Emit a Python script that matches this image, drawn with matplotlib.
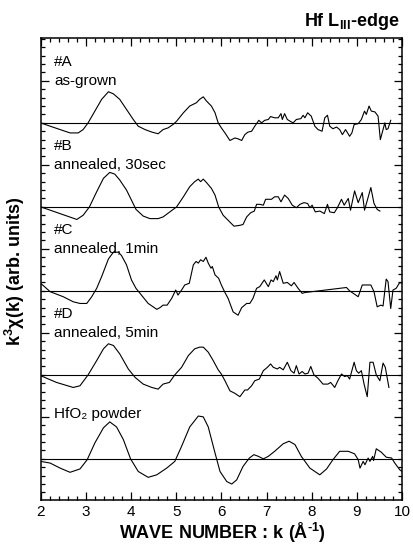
import numpy as np
import matplotlib
matplotlib.use('Agg')
import matplotlib.pyplot as plt
from matplotlib.ticker import FixedLocator, MultipleLocator

plt.rcParams['font.family'] = ['Liberation Sans', 'DejaVu Sans']
plt.rcParams['mathtext.fontset'] = 'custom'
plt.rcParams['mathtext.rm'] = 'Liberation Sans:bold'
plt.rcParams['mathtext.bf'] = 'Liberation Sans:bold'

# k3*chi(k) traces (arb. units, each offset by 1)
k_a = [2.0, 2.21, 2.43, 2.65, 2.83, 2.94, 3.05, 3.20, 3.35, 3.50, 3.61, 3.75, 3.90, 4.05, 4.16,
       4.31, 4.46, 4.60, 4.71, 4.82, 4.93, 5.01, 5.16, 5.30, 5.45, 5.52, 5.60, 5.67, 5.78, 5.86,
       5.93, 6.00, 6.08, 6.19, 6.30, 6.37, 6.45, 6.52, 6.59, 6.67, 6.74, 6.83, 6.89, 6.96, 7.04,
       7.09, 7.18, 7.26, 7.32, 7.35, 7.40, 7.46, 7.52, 7.59, 7.66, 7.76, 7.81, 7.85, 7.91, 7.99,
       8.07, 8.14, 8.23, 8.29, 8.35, 8.40, 8.47, 8.55, 8.62, 8.68, 8.75, 8.84, 8.89, 8.94, 9.03,
       9.10, 9.17, 9.21, 9.27, 9.32, 9.40, 9.47, 9.52, 9.58, 9.62, 9.65, 9.69, 9.75]
chi_a = [0, -0.04, -0.08, -0.12, -0.12, -0.08, 0, 0.14, 0.28, 0.37, 0.345, 0.28, 0.16, 0.04, -0.04,
         -0.08, -0.11, -0.13, -0.08, -0.06, -0.02, 0.02, 0.12, 0.20, 0.24, 0.28, 0.31, 0.26, 0.20, 0.12,
         0, -0.06, -0.12, -0.21, -0.18, -0.19, -0.21, -0.14, -0.11, -0.10, -0.04, 0.03, 0, 0.03, 0.04,
         0.075, 0.06, 0.06, 0.11, 0.04, 0.11, 0.04, 0.02, 0, 0.04, 0.05, 0.09, 0.06, 0.12, 0.08,
         -0.04, -0.08, -0.10, 0.06, 0.09, -0.04, -0.07, -0.05, -0.08, -0.14, -0.08, -0.16, -0.12, -0.02, -0.01,
         0.04, 0.14, 0.10, 0.20, 0.14, 0.13, 0.08, -0.20, -0.08, 0, -0.08, -0.07, 0.03]

k_b = [2.0, 2.80, 2.94, 3.08, 3.24, 3.39, 3.53, 3.64, 3.75, 3.90, 4.01, 4.11, 4.27, 4.42, 4.60,
       4.71, 4.86, 5.01, 5.16, 5.30, 5.41, 5.49, 5.54, 5.60, 5.67, 5.78, 5.86, 5.94, 6.04, 6.15,
       6.28, 6.41, 6.48, 6.56, 6.65, 6.73, 6.78, 6.85, 6.93, 6.98, 7.11, 7.18, 7.26, 7.32, 7.40,
       7.48, 7.57, 7.66, 7.74, 7.83, 7.91, 7.96, 8.01, 8.08, 8.18, 8.28, 8.35, 8.40, 8.50, 8.57,
       8.66, 8.72, 8.81, 8.86, 8.95, 9.03, 9.12, 9.17, 9.31, 9.38, 9.45, 9.51]
chi_b = [0, -0.15, -0.10, 0, 0.18, 0.34, 0.41, 0.39, 0.32, 0.20, 0.08, -0.03, -0.11, -0.14, -0.14,
         -0.12, -0.06, 0, 0.12, 0.24, 0.30, 0.33, 0.30, 0.33, 0.29, 0.22, 0.14, 0, -0.10, -0.16,
         -0.23, -0.22, -0.21, -0.12, -0.07, -0.05, 0.03, 0.03, 0.02, 0.09, 0.09, 0.12, 0.12, 0.06, 0.14,
         0.10, 0.02, -0.01, 0.03, 0.05, 0.04, -0.01, 0.02, -0.06, -0.05, -0.08, 0.03, -0.06, -0.07, -0.01,
         0.09, 0.02, 0.10, -0.04, 0.19, 0.05, 0.17, -0.04, 0.23, 0.04, -0.03, -0.05]

k_c = [2.0, 2.21, 2.50, 2.72, 2.87, 3.02, 3.13, 3.24, 3.35, 3.50, 3.61, 3.72, 3.79, 3.90, 4.01,
       4.11, 4.23, 4.38, 4.49, 4.57, 4.64, 4.71, 4.80, 4.90, 4.99, 5.04, 5.12, 5.19, 5.29, 5.38,
       5.44, 5.49, 5.54, 5.60, 5.66, 5.71, 5.77, 5.80, 5.86, 5.94, 6.00, 6.08, 6.15, 6.26, 6.37,
       6.45, 6.56, 6.63, 6.70, 6.78, 6.85, 6.95, 7.04, 7.10, 7.15, 7.21, 7.24, 7.29, 7.37, 7.46,
       7.55, 7.61, 7.70, 7.79, 7.85, 8.77, 8.84, 8.95, 9.03, 9.12, 9.31, 9.38, 9.45, 9.53, 9.58,
       9.65, 9.69, 9.75, 9.80, 9.87, 9.95, 10.0]
chi_c = [0.09, -0.01, -0.07, -0.13, -0.15, -0.15, -0.07, 0.03, 0.17, 0.38, 0.46, 0.46, 0.42, 0.31, 0.13,
         0.03, -0.05, -0.15, -0.19, -0.22, -0.20, -0.17, -0.17, -0.09, 0.01, -0.05, 0.01, 0.07, 0.09, 0.31,
         0.35, 0.33, 0.37, 0.35, 0.40, 0.33, 0.27, 0.29, 0.19, 0.15, 0.07, -0.02, -0.09, -0.25, -0.29,
         -0.20, -0.15, -0.15, -0.09, 0.03, 0.05, 0.13, 0.05, 0.13, 0.11, 0.18, 0.13, 0.23, 0.09, 0.10,
         0.06, 0.10, 0.03, -0.03, -0.02, 0.04, 0, -0.04, -0.07, 0.07, 0.07, -0.01, -0.19, -0.17, -0.18,
         0.14, 0.11, -0.21, 0.01, 0.03, 0.10, 0.09]

k_d = [2.0, 2.35, 2.72, 2.87, 3.05, 3.24, 3.39, 3.50, 3.61, 3.75, 3.94, 4.09, 4.27, 4.46, 4.60,
       4.71, 4.85, 4.97, 5.12, 5.27, 5.41, 5.52, 5.60, 5.71, 5.82, 5.93, 6.00, 6.08, 6.19, 6.30,
       6.41, 6.52, 6.58, 6.67, 6.74, 6.84, 6.93, 7.02, 7.09, 7.15, 7.24, 7.29, 7.37, 7.46, 7.54,
       7.61, 7.66, 7.72, 7.79, 7.85, 7.92, 7.98, 8.05, 8.14, 8.25, 8.36, 8.42, 8.51, 8.58, 8.66,
       8.73, 8.79, 8.84, 8.94, 8.99, 9.04, 9.10, 9.16, 9.23, 9.29, 9.36, 9.43, 9.51, 9.58, 9.63,
       9.71]
chi_d = [-0.01, -0.09, -0.15, -0.13, 0, 0.17, 0.31, 0.37, 0.35, 0.25, 0.07, -0.03, -0.11, -0.15, -0.17,
         -0.11, -0.09, 0, 0.09, 0.23, 0.31, 0.33, 0.33, 0.27, 0.17, 0.06, 0.01, -0.07, -0.19, -0.22,
         -0.26, -0.18, -0.18, -0.13, -0.07, -0.05, 0.05, 0.09, 0.13, 0.09, 0.07, 0.09, 0.06, 0.15, 0.05,
         0.02, 0.11, 0.01, 0.04, 0.01, 0.02, 0.10, 0, -0.04, -0.11, -0.11, -0.09, -0.15, -0.07, 0.01,
         -0.02, -0.01, -0.05, 0.15, 0.05, 0.02, 0.05, -0.11, -0.26, 0.15, 0.15, 0, -0.07, 0.14, 0.09,
         -0.15]

k_hfo2 = [2.0, 2.21, 2.43, 2.65, 2.87, 3.03, 3.20, 3.39, 3.53, 3.68, 3.83, 3.99, 4.16, 4.38, 4.57,
          4.79, 4.97, 5.12, 5.30, 5.49, 5.60, 5.71, 5.86, 5.97, 6.12, 6.23, 6.34, 6.48, 6.62, 6.72,
          6.82, 6.93, 7.04, 7.18, 7.37, 7.50, 7.63, 7.77, 7.96, 8.07, 8.18, 8.33, 8.47, 8.62, 8.81,
          8.95, 9.03, 9.07, 9.14, 9.18, 9.25, 9.29, 9.35, 9.37, 9.43, 9.54, 9.65, 9.77, 9.84, 9.95,
          10.0]
chi_hfo2 = [-0.03, -0.05, -0.11, -0.16, -0.12, -0.01, 0.19, 0.37, 0.44, 0.38, 0.23, 0, -0.15, -0.22, -0.19,
            -0.11, -0.03, 0.15, 0.38, 0.51, 0.50, 0.38, 0.07, -0.15, -0.27, -0.30, -0.25, -0.09, 0.01, 0.05,
            0.03, 0, 0.03, 0.09, 0.18, 0.21, 0.17, 0.03, -0.11, -0.15, -0.19, -0.12, -0.01, 0.09, 0.09,
            0.06, -0.01, -0.11, -0.03, -0.07, 0.01, -0.03, 0.03, -0.02, 0.12, 0.08, 0.02, 0.01, -0.05, -0.13,
            -0.15]

samples = [(k_a, chi_a, 4, '#A', 'as-grown'),
           (k_b, chi_b, 3, '#B', 'annealed, 30sec'),
           (k_c, chi_c, 2, '#C', 'annealed, 1min'),
           (k_d, chi_d, 1, '#D', 'annealed, 5min'),
           (k_hfo2, chi_hfo2, 0, None, 'HfO\u2082 powder')]

fig = plt.figure(figsize=(4.13, 5.46), dpi=100)
ax = fig.add_axes([0.0985, 0.0842, 0.8749, 0.8462])

for k, chi, off, tag, desc in samples:
    ax.axhline(off, color='black', lw=0.8)
    ax.plot(k, np.array(chi) + off, color='black', lw=0.8)
    if tag:
        ax.text(2.3, off + 0.73, tag, fontsize=11, va='center', ha='left')
        ax.text(2.3, off + 0.50, desc, fontsize=11, va='center', ha='left')
    else:
        ax.text(2.3, off + 0.54, desc, fontsize=11, va='center', ha='left')

ax.set_xlim(2, 10)
ax.set_ylim(-0.49, 5.01)
ax.xaxis.set_major_locator(MultipleLocator(1))
ax.xaxis.set_minor_locator(MultipleLocator(0.2))
ax.yaxis.set_major_locator(FixedLocator([0.5, 1.5, 2.5, 3.5, 4.5]))
ax.yaxis.set_minor_locator(MultipleLocator(0.1))
ax.tick_params(which='both', direction='in', top=True, right=True, width=0.9)
ax.tick_params(which='major', length=6, labelsize=11)
ax.tick_params(which='minor', length=3)
ax.set_yticklabels([])
for s in ax.spines.values():
    s.set_linewidth(1.1)

fig.text(222 / 413, 1 - 533 / 546, r'WAVE NUMBER : k (Å$^{\text{-1}}$)',
         fontsize=13, fontweight='bold', ha='center', va='center')
fig.text(15 / 413, 1 - 271 / 546, r'k$^{\mathbf{3}}$χ(k) (arb. units)',
         fontsize=13, fontweight='bold', ha='center', va='center', rotation=90)
fig.text(400 / 413, 1 - 22 / 546, r'Hf L$_{\mathbf{III}}$-edge',
         fontsize=13, fontweight='bold', ha='right', va='center')

fig.savefig('out.png', dpi=100)
